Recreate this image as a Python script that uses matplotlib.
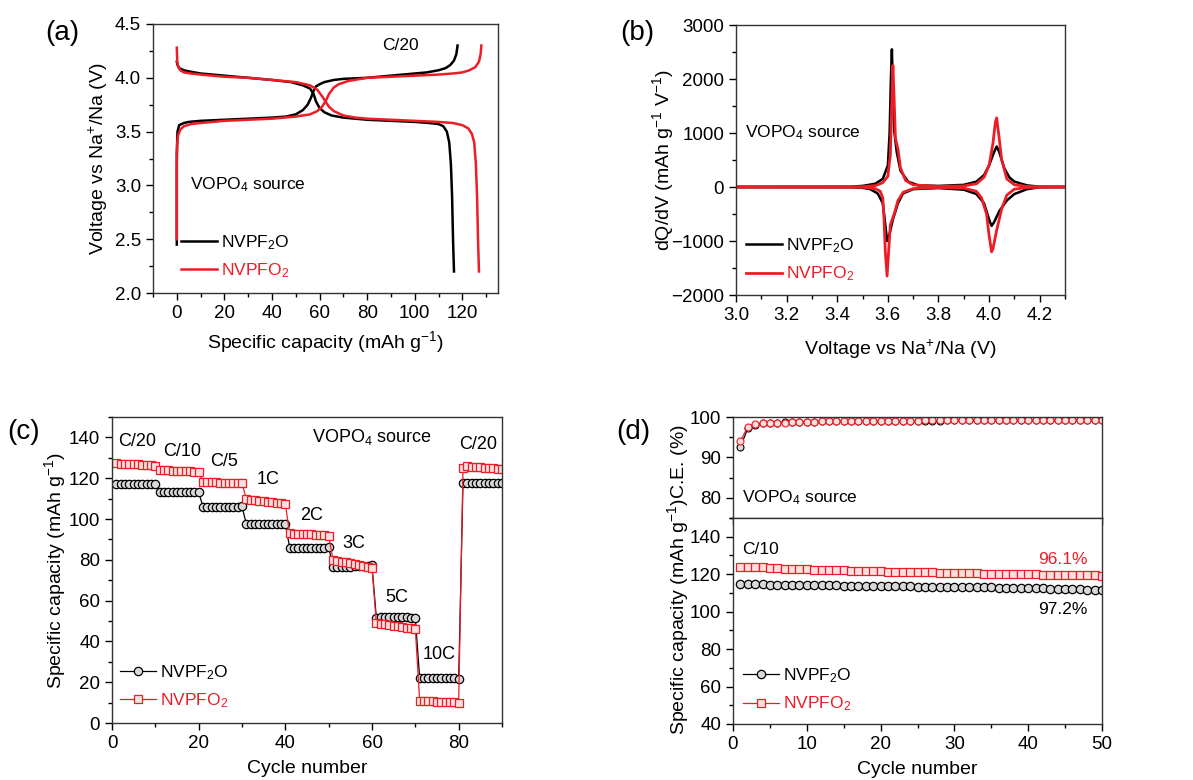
import matplotlib
matplotlib.use('Agg')
import matplotlib.pyplot as plt
from matplotlib.ticker import MultipleLocator

plt.rcParams['font.family'] = ['Liberation Sans', 'DejaVu Sans']
plt.rcParams['mathtext.fontset'] = 'custom'
plt.rcParams['mathtext.rm'] = 'Liberation Sans'
plt.rcParams['mathtext.it'] = 'Liberation Sans:italic'
plt.rcParams['mathtext.bf'] = 'Liberation Sans:bold'

RED = '#ee1c25'
BLACK = '#000000'
NAME_F2O = 'NVPF$_2$O'
NAME_FO2 = 'NVPFO$_2$'

# (a) charge / discharge profiles at C/20
f2o_chg_cap = [0, 0, 0, 0.3, 1, 3, 5, 10, 20, 30, 40, 46, 50, 53, 55, 56.5, 57.5, 58.5, 60, 62, 66, 70, 80, 90, 100, 105, 110, 113, 115, 116.5, 117.5, 118]
f2o_chg_v = [2.45, 2.55, 3.3, 3.5, 3.56, 3.58, 3.59, 3.6, 3.61, 3.62, 3.63, 3.64, 3.66, 3.7, 3.75, 3.82, 3.88, 3.92, 3.94, 3.96, 3.98, 3.99, 4.0, 4.02, 4.04, 4.05, 4.07, 4.09, 4.12, 4.16, 4.22, 4.3]
f2o_dis_cap = [0, 0.3, 1, 3, 5, 10, 20, 30, 40, 48, 53, 56, 57.5, 58.5, 60, 62, 65, 70, 80, 90, 100, 106, 110, 112, 113.5, 114.5, 115.2, 115.7, 116.1, 116.5]
f2o_dis_v = [4.15, 4.12, 4.09, 4.07, 4.06, 4.04, 4.02, 4.0, 3.98, 3.96, 3.93, 3.9, 3.85, 3.78, 3.72, 3.68, 3.65, 3.63, 3.61, 3.6, 3.59, 3.58, 3.57, 3.55, 3.5, 3.4, 3.2, 2.9, 2.5, 2.2]
fo2_chg_cap = [0, 0, 0.2, 0.6, 1.5, 3, 6, 10, 20, 30, 40, 50, 56, 59, 61, 62.5, 64, 66, 68, 72, 80, 90, 100, 110, 116, 120, 123, 125.5, 127, 127.7, 128]
fo2_chg_v = [2.5, 3.2, 3.4, 3.47, 3.52, 3.55, 3.57, 3.58, 3.6, 3.61, 3.62, 3.64, 3.66, 3.69, 3.73, 3.78, 3.85, 3.91, 3.94, 3.97, 4.0, 4.01, 4.02, 4.03, 4.04, 4.05, 4.07, 4.1, 4.15, 4.22, 4.3]
fo2_dis_cap = [0, 0.2, 0.6, 1.5, 3, 6, 10, 20, 30, 40, 50, 56, 59, 61, 62.5, 64, 66, 70, 75, 80, 90, 100, 110, 116, 120, 122.5, 124, 125, 125.7, 126.2, 126.6, 127]
fo2_dis_v = [4.28, 4.15, 4.1, 4.07, 4.05, 4.04, 4.03, 4.01, 4.0, 3.98, 3.96, 3.93, 3.89, 3.83, 3.78, 3.73, 3.69, 3.65, 3.63, 3.62, 3.61, 3.6, 3.59, 3.58, 3.56, 3.53, 3.48, 3.4, 3.2, 2.9, 2.5, 2.2]

# (b) dQ/dV
f2o_chg_dv_v = [3.0, 3.45, 3.5, 3.55, 3.58, 3.6, 3.607, 3.612, 3.616, 3.62, 3.625, 3.635, 3.65, 3.68, 3.72, 3.8, 3.9, 3.95, 3.98, 4.0, 4.02, 4.03, 4.04, 4.06, 4.08, 4.1, 4.15, 4.2, 4.3]
f2o_chg_dv = [0, 5, 20, 60, 150, 400, 1000, 2000, 2550, 1800, 1050, 650, 300, 100, 30, 20, 40, 100, 220, 400, 650, 750, 650, 350, 180, 100, 30, 5, 0]
f2o_dis_dv_v = [4.3, 4.2, 4.15, 4.1, 4.07, 4.04, 4.02, 4.01, 4.0, 3.98, 3.95, 3.9, 3.8, 3.7, 3.66, 3.64, 3.62, 3.605, 3.597, 3.59, 3.58, 3.56, 3.53, 3.5, 3.45, 3.0]
f2o_dis_dv = [0, -5, -40, -130, -250, -450, -650, -720, -600, -300, -130, -50, -20, -40, -120, -300, -600, -900, -1000, -700, -300, -120, -40, -15, -5, 0]
fo2_chg_dv_v = [3.0, 3.5, 3.55, 3.58, 3.6, 3.61, 3.615, 3.62, 3.625, 3.63, 3.64, 3.65, 3.67, 3.7, 3.8, 3.9, 3.95, 3.98, 4.0, 4.015, 4.025, 4.03, 4.04, 4.05, 4.07, 4.1, 4.15, 4.3]
fo2_chg_dv = [0, 5, 25, 80, 200, 600, 1500, 2250, 1600, 900, 700, 350, 120, 40, 10, 20, 60, 180, 400, 800, 1200, 1280, 900, 500, 150, 40, 10, 0]
fo2_dis_dv_v = [4.3, 4.15, 4.1, 4.07, 4.05, 4.03, 4.015, 4.01, 4.0, 3.99, 3.97, 3.95, 3.9, 3.8, 3.7, 3.66, 3.64, 3.625, 3.61, 3.603, 3.597, 3.59, 3.585, 3.58, 3.57, 3.55, 3.5, 3.0]
fo2_dis_dv = [0, -10, -40, -150, -400, -800, -1150, -1200, -900, -500, -200, -80, -20, -10, -30, -100, -250, -500, -700, -1200, -1650, -1200, -600, -200, -80, -30, -5, 0]

# (c) rate capability
rate_cycles = list(range(1, 91))
rate_f2o = [
    117.0, 117.0, 117.1, 117.0, 117.0, 117.0, 117.0, 117.0, 117.0, 117.0,
    113.0, 113.0, 113.0, 113.0, 113.0, 113.0, 113.0, 113.0, 113.0, 113.2,
    106.0, 106.0, 106.0, 106.0, 106.0, 106.0, 106.0, 106.0, 106.0, 106.2,
    97.5, 97.5, 97.5, 97.5, 97.5, 97.5, 97.5, 97.5, 97.5, 97.6,
    86.0, 86.0, 86.0, 86.0, 86.0, 86.0, 86.0, 86.0, 86.0, 86.2,
    76.5, 76.5, 76.6, 76.6, 76.7, 76.8, 76.9, 77.0, 77.1, 77.3,
    51.5, 51.8, 51.9, 52.0, 52.0, 52.0, 51.9, 51.8, 51.6, 51.4,
    22.0, 22.3, 22.3, 22.2, 22.2, 22.1, 22.1, 22.0, 22.0, 21.8,
    117.5, 117.5, 117.5, 117.5, 117.5, 117.5, 117.5, 117.5, 117.5, 117.5]
rate_fo2 = [
    127.3, 127.2, 127.1, 127.0, 126.9, 126.8, 126.7, 126.6, 126.4, 126.2,
    124.0, 123.9, 123.8, 123.7, 123.6, 123.5, 123.4, 123.3, 123.2, 123.0,
    118.0, 118.0, 117.9, 117.9, 117.8, 117.8, 117.7, 117.7, 117.6, 117.6,
    109.8, 109.4, 109.1, 108.8, 108.6, 108.3, 108.1, 107.8, 107.6, 107.3,
    92.9, 92.8, 92.8, 92.7, 92.6, 92.5, 92.4, 92.3, 92.1, 91.8,
    80.0, 79.5, 79.1, 78.7, 78.3, 77.9, 77.5, 77.1, 76.7, 76.2,
    49.0, 48.6, 48.3, 48.0, 47.7, 47.4, 47.1, 46.8, 46.5, 46.0,
    11.0, 10.8, 10.7, 10.6, 10.5, 10.4, 10.3, 10.2, 10.1, 9.9,
    125.0, 126.0, 125.7, 125.5, 125.3, 125.1, 124.9, 124.8, 124.6, 124.4]
rate_labels = ['C/20', 'C/10', 'C/5', '1C', '2C', '3C', '5C', '10C', 'C/20']
rate_label_x = [5.8, 16.2, 25.9, 36, 46, 55.7, 65.7, 75.6, 84.6]
rate_label_y = [138, 133, 128, 119.5, 101.5, 88, 61.5, 33.7, 136.5]

# (d) cycling at C/10
cyc_cycles = list(range(1, 51))
ce_f2o = [
    92.5, 97.2, 98.1, 98.4, 98.5, 98.6, 98.7, 98.7, 98.8, 98.8,
    98.8, 98.9, 98.9, 98.9, 98.9, 99.0, 99.0, 99.0, 99.0, 99.0,
    99.0, 99.1, 99.1, 99.1, 99.1, 99.1, 99.1, 99.1, 99.2, 99.2,
    99.2, 99.2, 99.2, 99.2, 99.2, 99.2, 99.2, 99.2, 99.3, 99.3,
    99.3, 99.3, 99.3, 99.3, 99.3, 99.3, 99.3, 99.3, 99.3, 99.3]
ce_fo2 = [
    94.0, 97.6, 98.2, 98.4, 98.5, 98.6, 98.6, 98.7, 98.8, 98.8,
    98.8, 98.9, 98.9, 98.9, 99.0, 99.0, 99.0, 99.0, 99.0, 99.1,
    99.1, 99.1, 99.1, 99.1, 99.1, 99.2, 99.2, 99.2, 99.2, 99.2,
    99.2, 99.2, 99.2, 99.2, 99.2, 99.3, 99.3, 99.3, 99.2, 99.3,
    99.3, 99.3, 99.3, 99.3, 99.3, 99.3, 99.3, 99.3, 99.3, 99.3]
cap_f2o = [
    114.6, 114.6, 114.5, 114.5, 114.4, 114.4, 114.3, 114.3, 114.2, 114.2,
    114.1, 114.1, 114.0, 114.0, 113.9, 113.9, 113.8, 113.8, 113.7, 113.7,
    113.6, 113.6, 113.5, 113.5, 113.4, 113.4, 113.3, 113.3, 113.2, 113.2,
    113.1, 113.0, 113.0, 112.9, 112.9, 112.8, 112.7, 112.7, 112.6, 112.6,
    112.5, 112.4, 112.3, 112.2, 112.1, 112.0, 111.9, 111.8, 111.7, 111.5]
cap_fo2 = [
    124.1, 124.0, 123.8, 123.6, 123.4, 123.2, 123.0, 122.9, 122.8, 122.6,
    122.5, 122.4, 122.2, 122.1, 122.0, 121.9, 121.8, 121.7, 121.6, 121.5,
    121.4, 121.3, 121.2, 121.1, 121.0, 120.9, 120.9, 120.8, 120.7, 120.6,
    120.5, 120.5, 120.4, 120.3, 120.3, 120.2, 120.2, 120.1, 120.0, 120.0,
    119.9, 119.8, 119.8, 119.7, 119.6, 119.6, 119.5, 119.4, 119.3, 119.2]

TICK_FS = 13.5
LABEL_FS = 14
NOTE_FS = 12.5
LEG_FS = 12.5
PANEL_FS = 20


def px_axes(fig, left, top, right, bottom):
    W, H = fig.get_size_inches() * fig.dpi
    return fig.add_axes([left / W, 1 - bottom / H, (right - left) / W, (bottom - top) / H])


def style_axes(ax):
    ax.tick_params(which='both', direction='out', top=False, right=False, labelsize=TICK_FS, width=1)
    ax.tick_params(which='major', length=5)
    ax.tick_params(which='minor', length=3)
    for s in ax.spines.values():
        s.set_linewidth(1)
        s.set_color('#333333')


def color_legend(ax, anchor):
    leg = ax.legend(loc='center left', bbox_to_anchor=anchor, frameon=False, fontsize=LEG_FS,
                    handlelength=2.1, handletextpad=0.2, labelspacing=0.55,
                    borderaxespad=0, borderpad=0)
    for txt, c in zip(leg.get_texts(), [BLACK, RED]):
        txt.set_color(c)
    return leg


fig = plt.figure(figsize=(11.93, 7.8), dpi=100)

# ---- (a)
ax = px_axes(fig, 153, 24, 498, 293)
ax.plot(f2o_chg_cap, f2o_chg_v, color=BLACK, lw=1.8, label=NAME_F2O)
ax.plot(f2o_dis_cap, f2o_dis_v, color=BLACK, lw=1.8)
ax.plot(fo2_chg_cap, fo2_chg_v, color=RED, lw=1.8, label=NAME_FO2)
ax.plot(fo2_dis_cap, fo2_dis_v, color=RED, lw=1.8)
ax.set_xlim(-10, 135)
ax.set_ylim(2.0, 4.5)
ax.xaxis.set_major_locator(MultipleLocator(20))
ax.xaxis.set_minor_locator(MultipleLocator(10))
ax.yaxis.set_major_locator(MultipleLocator(0.5))
ax.yaxis.set_minor_locator(MultipleLocator(0.25))
ax.set_xlabel('Specific capacity (mAh g$^{-1}$)', fontsize=LABEL_FS, labelpad=5)
ax.set_ylabel('Voltage vs Na$^{+}$/Na (V)', fontsize=LABEL_FS)
ax.yaxis.set_label_coords(-0.125, 0.5)
ax.text(94, 4.3, 'C/20', fontsize=NOTE_FS, ha='center', va='center')
ax.text(5.5, 3.01, 'VOPO$_4$ source', fontsize=NOTE_FS, ha='left', va='center')
style_axes(ax)
color_legend(ax, (0.081, 0.135))
fig.text(62 / 1193, 1 - 33 / 780, '(a)', fontsize=PANEL_FS, ha='center', va='center')

# ---- (b)
ax = px_axes(fig, 736, 25, 1065, 295)
ax.plot(f2o_chg_dv_v, f2o_chg_dv, color=BLACK, lw=1.8, label=NAME_F2O)
ax.plot(f2o_dis_dv_v, f2o_dis_dv, color=BLACK, lw=1.8)
ax.plot(fo2_chg_dv_v, fo2_chg_dv, color=RED, lw=2.0, label=NAME_FO2)
ax.plot(fo2_dis_dv_v, fo2_dis_dv, color=RED, lw=2.0)
ax.set_xlim(3.0, 4.3)
ax.set_ylim(-2000, 3000)
ax.xaxis.set_major_locator(MultipleLocator(0.2))
ax.xaxis.set_minor_locator(MultipleLocator(0.1))
ax.yaxis.set_major_locator(MultipleLocator(1000))
ax.yaxis.set_minor_locator(MultipleLocator(500))
ax.set_xlabel('Voltage vs Na$^{+}$/Na (V)', fontsize=LABEL_FS, labelpad=10)
ax.set_ylabel('dQ/dV (mAh g$^{-1}$ V$^{-1}$)', fontsize=LABEL_FS)
ax.yaxis.set_label_coords(-0.182, 0.5)
ax.text(3.035, 1000, 'VOPO$_4$ source', fontsize=NOTE_FS, ha='left', va='center')
style_axes(ax)
color_legend(ax, (0.030, 0.13))
fig.text(637 / 1193, 1 - 33 / 780, '(b)', fontsize=PANEL_FS, ha='center', va='center')

# ---- (c)
ax = px_axes(fig, 112, 417, 502, 723)
ax.plot(rate_cycles, rate_f2o, color=BLACK, lw=0.9, marker='o', ms=6, mfc='#d9d9d9',
        mec=BLACK, mew=0.9, label=NAME_F2O)
ax.plot(rate_cycles, rate_fo2, color=RED, lw=0.9, marker='s', ms=5.5, mfc='#fbe0e0',
        mec=RED, mew=0.9, label=NAME_FO2)
for lab, lx, ly in zip(rate_labels, rate_label_x, rate_label_y):
    ax.text(lx, ly, lab, fontsize=NOTE_FS + 0.5, ha='center', va='center')
ax.text(60, 140, 'VOPO$_4$ source', fontsize=NOTE_FS + 0.5, ha='center', va='center')
ax.set_xlim(0, 90)
ax.set_ylim(0, 150)
ax.xaxis.set_major_locator(MultipleLocator(20))
ax.xaxis.set_minor_locator(MultipleLocator(10))
ax.yaxis.set_major_locator(MultipleLocator(20))
ax.yaxis.set_minor_locator(MultipleLocator(10))
ax.set_xlabel('Cycle number', fontsize=LABEL_FS, labelpad=6)
ax.set_ylabel('Specific capacity (mAh g$^{-1}$)', fontsize=LABEL_FS)
ax.yaxis.set_label_coords(-0.113, 0.5)
style_axes(ax)
color_legend(ax, (0.0205, 0.12))
fig.text(24 / 1193, 1 - 432 / 780, '(c)', fontsize=PANEL_FS, ha='center', va='center')

# ---- (d) top: coulombic efficiency
ax_t = px_axes(fig, 733, 417, 1102, 518)
ax_t.plot(cyc_cycles, ce_f2o, color=BLACK, lw=0.9, marker='o', ms=5, mfc='#d9d9d9', mec=BLACK, mew=0.8)
ax_t.plot(cyc_cycles, ce_fo2, color=RED, lw=0.9, marker='o', ms=5, mfc='#fbe0e0', mec=RED, mew=0.8)
ax_t.set_xlim(0, 50)
ax_t.set_ylim(75, 100)
ax_t.xaxis.set_major_locator(MultipleLocator(10))
ax_t.xaxis.set_minor_locator(MultipleLocator(5))
ax_t.yaxis.set_major_locator(MultipleLocator(10))
ax_t.yaxis.set_minor_locator(MultipleLocator(5))
ax_t.text(1.2, 80, 'VOPO$_4$ source', fontsize=NOTE_FS, ha='left', va='center')
style_axes(ax_t)
ax_t.tick_params(axis='x', labelbottom=False)

# ---- (d) bottom: capacity retention
ax = px_axes(fig, 733, 518, 1102, 724)
ax.plot(cyc_cycles, cap_f2o, color=BLACK, lw=0.9, marker='o', ms=6, mfc='#d9d9d9',
        mec=BLACK, mew=0.9, label=NAME_F2O)
ax.plot(cyc_cycles, cap_fo2, color=RED, lw=0.9, marker='s', ms=5.5, mfc='#fbe0e0',
        mec=RED, mew=0.9, label=NAME_FO2)
ax.set_xlim(0, 50)
ax.set_ylim(40, 150)
ax.xaxis.set_major_locator(MultipleLocator(10))
ax.xaxis.set_minor_locator(MultipleLocator(5))
ax.yaxis.set_major_locator(MultipleLocator(20))
ax.yaxis.set_minor_locator(MultipleLocator(10))
ax.text(1.2, 133, 'C/10', fontsize=NOTE_FS, ha='left', va='center')
ax.text(48, 128, '96.1%', fontsize=NOTE_FS, ha='right', va='center', color=RED)
ax.text(48, 101, '97.2%', fontsize=NOTE_FS, ha='right', va='center', color=BLACK)
ax.set_xlabel('Cycle number', fontsize=LABEL_FS, labelpad=6)
style_axes(ax)
color_legend(ax, (0.027, 0.165))
fig.text(678 / 1193, 1 - 580 / 780, 'Specific capacity (mAh g$^{-1}$)C.E. (%)',
         fontsize=LABEL_FS, rotation=90, ha='center', va='center')
fig.text(633 / 1193, 1 - 432 / 780, '(d)', fontsize=PANEL_FS, ha='center', va='center')

fig.savefig('out.png', dpi=100, facecolor='white')
